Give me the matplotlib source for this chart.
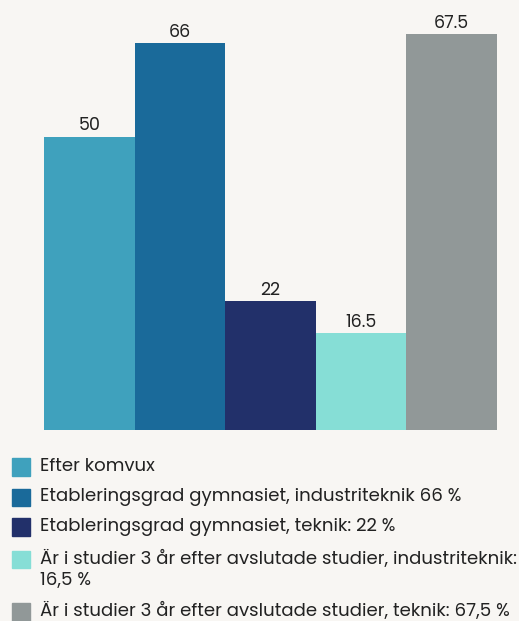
import matplotlib
matplotlib.use("Agg")
import matplotlib.pyplot as plt
from matplotlib.patches import Rectangle

categories = [
    "Efter komvux",
    "Etableringsgrad gymnasiet, industriteknik 66 %",
    "Etableringsgrad gymnasiet, teknik: 22 %",
    "Är i studier 3 år efter avslutade studier, industriteknik:\n16,5 %",
    "Är i studier 3 år efter avslutade studier, teknik: 67,5 %",
]
values = [50, 66, 22, 16.5, 67.5]
value_labels = ["50", "66", "22", "16.5", "67.5"]
colors = ["#3fa1bd", "#1a6a9a", "#22306a", "#86ded6", "#919898"]

BG = "#f8f6f3"
W, H = 519, 621
fig = plt.figure(figsize=(W / 100, H / 100), dpi=100, facecolor=BG)
plt.rcParams["font.family"] = ["Poppins", "Lato", "DejaVu Sans"]

ax_bottom = 430
ax_top = 10
ax = fig.add_axes([44 / W, 1 - ax_bottom / H, (497 - 44) / W, (ax_bottom - ax_top) / H])
ax.set_facecolor(BG)
x = list(range(len(values)))
ax.bar(x, values, width=1.0, color=colors, align="center")
ax.set_xlim(-0.5, len(values) - 0.5)
ax.set_ylim(0, (ax_bottom - ax_top) / 5.86)
for xi, v, lab in zip(x, values, value_labels):
    ax.annotate(lab, (xi, v), xytext=(0, 7.6), textcoords="offset points",
                ha="center", va="center", fontsize=12.6, color="#222222")
ax.axis("off")

# legend (manual)
row_y = [467, 497.5, 527, 559.5, 612]
sq = 17.5
line_gap = 22
for cy, c, lab in zip(row_y, colors, categories):
    fig.patches.append(Rectangle((12 / W, 1 - (cy + sq / 2) / H), sq / W, sq / H,
                                 transform=fig.transFigure, color=c))
    for i, line in enumerate(lab.split("\n")):
        fig.text(40 / W, 1 - (cy + i * line_gap) / H, line, ha="left", va="center",
                 fontsize=13.05, color="#222222")
fig.savefig("out.png", dpi=100, facecolor=BG)
